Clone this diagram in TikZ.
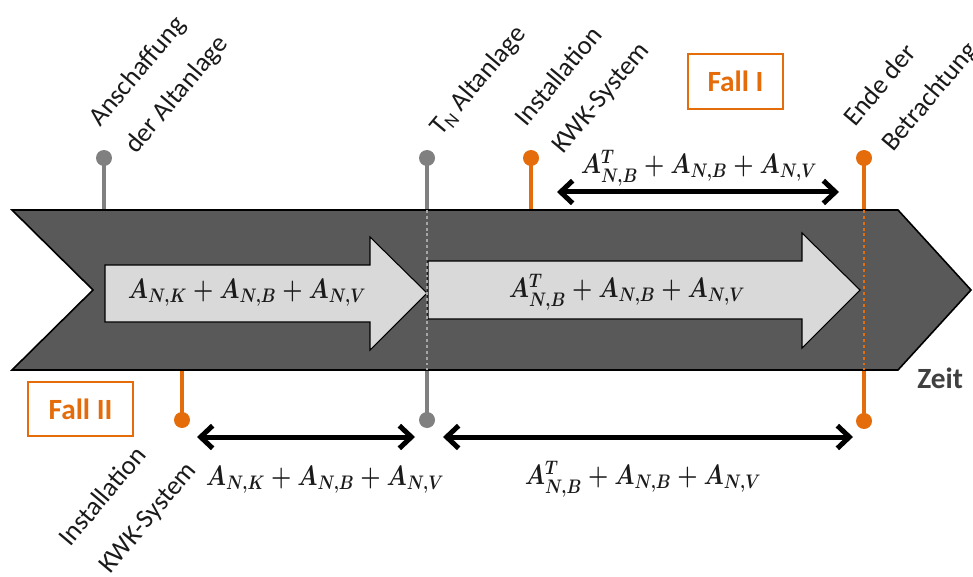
\RequirePackage{fix-cm}
\documentclass[tikz,border=0pt]{standalone}
\usepackage{amsmath}
\usepackage{graphicx}
\usepackage{fontspec}
\setmainfont{Carlito}
\usetikzlibrary{arrows.meta}
\definecolor{chev}{HTML}{595959}
\definecolor{lite}{HTML}{D9D9D9}
\definecolor{stemgray}{HTML}{808080}
\definecolor{dotgray}{HTML}{A6A6A6}
\definecolor{orng}{HTML}{E46C0A}
\definecolor{txt}{HTML}{1A1A1A}
\definecolor{zeitgray}{HTML}{404040}
\newcommand{\mexpr}[1]{\scalebox{0.83}[1]{$#1$}}
\begin{document}
\begin{tikzpicture}[x=0.75pt,y=-0.75pt,
  dot/.style={circle,inner sep=0pt,minimum size=12pt},
  graydot/.style={dot,fill=stemgray},
  orangedot/.style={dot,fill=orng},
  graystem/.style={stemgray,line width=3pt},
  orangestem/.style={orng,line width=3pt},
  graydotted/.style={dotgray,line width=2.2pt,dash pattern=on 2.2pt off 2.2pt},
  orangedotted/.style={orng,line width=2.2pt,dash pattern=on 2.2pt off 2.2pt},
  lbl/.style={rotate=50,anchor=base west,inner sep=0pt,font=\fontsize{20}{24}\selectfont,text=txt},
  mathlbl/.style={inner sep=0pt,font=\fontsize{21}{25}\selectfont\boldmath,text=txt},
  spanarrow/.style={line width=3.75pt,{Straight Barb[length=9pt,width=17pt]}-{Straight Barb[length=9pt,width=17pt]}},
  fallbox/.style={draw=orng,line width=1.5pt,fill=white,text=orng,font=\bfseries\fontsize{22}{26}\selectfont,minimum height=41pt,inner sep=0pt},
  chevron/.style={fill=chev,draw=black,line width=1.2pt,line join=miter},
  litearrow/.style={fill=lite,draw=black,line width=0.8pt}
]
\useasboundingbox (0,0) rectangle (973,577);

% stem anchor points on chevron edges
\coordinate (e1) at (104,210);
\coordinate (e2t) at (427,210);
\coordinate (e2b) at (427,370);
\coordinate (e3) at (531,210);
\coordinate (e4t) at (864,210);
\coordinate (e4b) at (864,370);
\coordinate (e5) at (182,370);

% dots
\node[graydot] (g1) at (104,158) {};
\node[graydot] (g2) at (427,158) {};
\node[graydot] (g2b) at (427,420) {};
\node[orangedot] (o1) at (531,158) {};
\node[orangedot] (o2) at (864,158) {};
\node[orangedot] (o2b) at (864,421) {};
\node[orangedot] (o3) at (182,420) {};

% solid stems
\draw[graystem] (g1.center) -- (e1);
\draw[graystem] (g2.center) -- (e2t);
\draw[graystem] (g2b.center) -- (e2b);
\draw[orangestem] (o1.center) -- (e3);
\draw[orangestem] (o2.center) -- (e4t);
\draw[orangestem] (o2b.center) -- (e4b);
\draw[orangestem] (o3.center) -- (e5);

% main chevron
\draw[chevron] (12,210) -- (898,210) -- (971,290) -- (898,370) -- (12,370) -- (93,290) -- cycle;

% light arrows
\draw[litearrow] (105,265) -- (370,265) -- (370,237) -- (427,293) -- (370,350) -- (370,322) -- (105,322) -- cycle;
\draw[litearrow] (428,261) -- (802,261) -- (802,233) -- (860,290) -- (802,348) -- (802,319) -- (428,319) -- cycle;

% dotted parts inside chevron
\draw[graydotted] (e2t) -- (e2b);
\draw[orangedotted] (e4t) -- (e4b);

% labels in arrows
\node[mathlbl] (m1) at (247,293) {\mexpr{A_{N,K}+A_{N,B}+A_{N,V}}};
\node[mathlbl] (m2) at (627,292) {\mexpr{A^{T}_{N,B}+A_{N,B}+A_{N,V}}};

% span arrows
\coordinate (s1a) at (557,192);
\coordinate (s1b) at (839,192);
\coordinate (s2a) at (197,437);
\coordinate (s2b) at (415,437);
\coordinate (s3a) at (443,437);
\coordinate (s3b) at (853,437);
\draw[spanarrow] (s1a) -- (s1b);
\draw[spanarrow] (s2a) -- (s2b);
\draw[spanarrow] (s3a) -- (s3b);
\node[mathlbl] (m3) at (699,168) {\mexpr{A^{T}_{N,B}+A_{N,B}+A_{N,V}}};
\node[mathlbl] (m4) at (325,480) {\mexpr{A_{N,K}+A_{N,B}+A_{N,V}}};
\node[mathlbl] (m5) at (643,479) {\mexpr{A^{T}_{N,B}+A_{N,B}+A_{N,V}}};

% rotated labels
\node[lbl] (l1a) at (100,128) {Anschaffung};
\node[lbl] (l1b) at (136,155) {der Altanlage};
\node[lbl] (l2) at (441,137) {T\textsubscript{N} Altanlage};
\node[lbl] (l3a) at (526,128) {Installation};
\node[lbl] (l3b) at (563,155) {KWK-System};
\node[lbl] (l4a) at (855,128) {Ende der};
\node[lbl] (l4b) at (893,153) {Betrachtung};
\node[lbl] (l5a) at (70,548) {Installation};
\node[lbl] (l5b) at (110,575) {KWK-System};

% Fall boxes
\node[fallbox,minimum width=71pt] (f1) at (735.5,81.5) {Fall I};
\node[fallbox,minimum width=79pt] (f2) at (80.5,409) {Fall II};

% Zeit
\node[anchor=base west,inner sep=0pt,font=\bfseries\fontsize{22}{26}\selectfont,text=zeitgray] (zeit) at (917,388) {Zeit};
\end{tikzpicture}
\end{document}
